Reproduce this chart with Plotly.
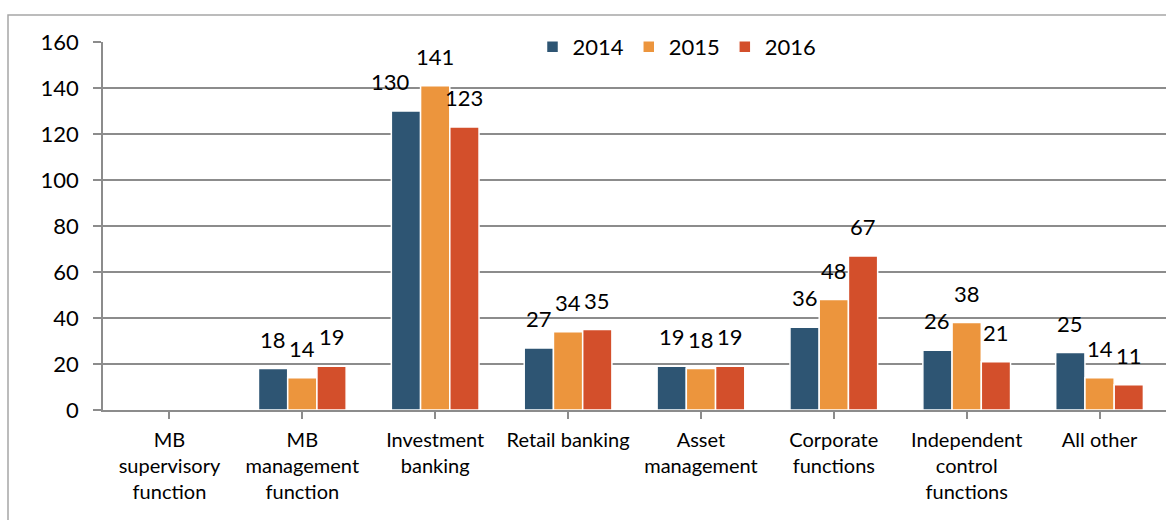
import plotly.graph_objects as go

# Category labels (line breaks as drawn under the axis)
categories = [
    "MB<br>supervisory<br>function",
    "MB<br>management<br>function",
    "Investment<br>banking",
    "Retail banking",
    "Asset<br>management",
    "Corporate<br>functions",
    "Independent<br>control<br>functions",
    "All other",
]

years = ["2014", "2015", "2016"]
values_2014 = [None, 18, 130, 27, 19, 36, 26, 25]
values_2015 = [None, 14, 141, 34, 18, 48, 38, 14]
values_2016 = [None, 19, 123, 35, 19, 67, 21, 11]

y_ticks = [0, 20, 40, 60, 80, 100, 120, 140, 160]

colors = ["#2E5573", "#EC953D", "#D34F2B"]
FONT = "Lato, Calibri, 'Open Sans', sans-serif"
GRID = "#8C8C8C"
BARGAP = 0.34

# Small horizontal nudges for crowded value labels (series index, category index) -> px
label_nudge = {(0, 2): -15}

series = [values_2014, values_2015, values_2016]

fig = go.Figure()
for k, (name, vals) in enumerate(zip(years, series)):
    fig.add_trace(go.Bar(
        name=name,
        x=list(range(len(categories))),
        y=vals,
        marker=dict(color=colors[k], line=dict(color="white", width=1.5)),
    ))

# Value labels above each bar
bar_w = (1 - BARGAP) / len(series)
for k, vals in enumerate(series):
    for i, v in enumerate(vals):
        if v is None:
            continue
        fig.add_annotation(
            x=i + (k - 1) * bar_w, y=v, text=str(v),
            showarrow=False, yanchor="bottom", yshift=14,
            xshift=label_nudge.get((k, i), 0),
            font=dict(family=FONT, size=22, color="#000000"),
        )

L, R, T, B = 103, 0, 42, 110
W, H = 1166, 520
pw, ph = W - L - R, H - T - B

# Outer chart frame
fig.add_shape(
    type="rect", xref="paper", yref="paper",
    x0=(8 - L) / pw, x1=1.05, y0=-0.6, y1=(H - B - 15) / ph,
    line=dict(color="#A6A6A6", width=1.5), fillcolor="rgba(0,0,0,0)", layer="below",
)

fig.update_layout(
    width=W, height=H,
    margin=dict(l=L, r=R, t=T, b=B),
    paper_bgcolor="white", plot_bgcolor="white",
    barmode="group", bargap=BARGAP, bargroupgap=0,
    font=dict(family=FONT, color="#000000"),
    showlegend=True,
    legend=dict(
        orientation="h", x=(677 - L) / pw, xanchor="center",
        y=(H - B - 47) / ph, yanchor="middle",
        bgcolor="white", font=dict(size=22, family=FONT),
        itemwidth=30, traceorder="normal",
    ),
    xaxis=dict(
        tickmode="array", tickvals=list(range(len(categories))), ticktext=categories,
        range=[-0.5, len(categories) - 0.5],
        showline=True, linecolor=GRID, linewidth=1.5,
        ticks="outside", tickson="boundaries", ticklen=7, tickcolor=GRID, tickwidth=1.5,
        tickfont=dict(size=20, family=FONT), showgrid=False, ticklabelstandoff=4,
    ),
    yaxis=dict(
        range=[0, 160], tickvals=y_ticks,
        showline=True, linecolor=GRID, linewidth=1.5,
        showgrid=True, gridcolor=GRID, gridwidth=1.5, zeroline=False,
        ticks="outside", ticklen=8, tickcolor=GRID, tickwidth=1.5,
        tickfont=dict(size=22, family=FONT), ticklabelstandoff=10,
    ),
)

fig.write_html("out.html")
